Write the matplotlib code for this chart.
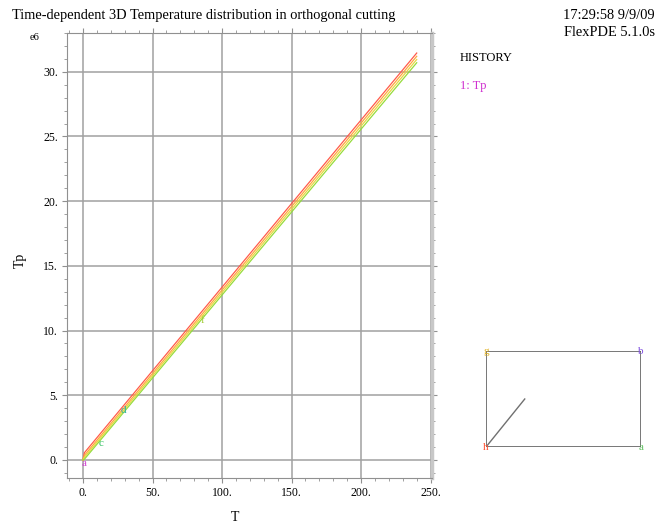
import matplotlib
matplotlib.use('Agg')
import matplotlib.pyplot as plt
from matplotlib.ticker import MultipleLocator, FuncFormatter

plt.rcParams['font.family'] = ['Liberation Serif', 'DejaVu Serif']

# history curves (Tp in units of 1e6 vs time T)
T = [0, 1, 240]
tp_red = [0.0, 0.55, 31.45]
tp_orange = [0.0, 0.35, 31.2]
tp_yellow = [0.0, 0.2, 30.95]
tp_green = [0.0, 0.05, 30.7]
curve_colors = ['#ff5a4a', '#ffa640', '#e8d840', '#96dc3c']

# curve labels
lab_text = ['a', 'c', 'd', 'f']
lab_T = [0.5, 13, 29, 86]
lab_tp = [-0.3, 1.3, 3.8, 10.8]
lab_colors = ['#d040d0', '#30c060', '#30b0a0', '#a0c830']

# history point locations (inset sketch)
pt_text = ['h', 'a', 'b', 'g']
pt_x = [0, 1, 1, 0]
pt_y = [0, 0, 1, 1]
pt_colors = ['#ff5030', '#60c060', '#8050e0', '#e0b020']

fig = plt.figure(figsize=(6.57, 5.27), dpi=100)
ax = fig.add_axes([67/657, 1-478/527, 365/657, 445/527])

for ys, c in zip([tp_red, tp_orange, tp_yellow, tp_green], curve_colors):
    ax.plot(T, ys, color=c, lw=0.9)
for s, x, y, c in zip(lab_text, lab_T, lab_tp, lab_colors):
    ax.text(x, y, s, color=c, fontsize=8, ha='center', va='center')

ax.set_xlim(-11.5, 251)
ax.set_ylim(-1.4, 33)
ax.xaxis.set_major_locator(MultipleLocator(50))
ax.xaxis.set_minor_locator(MultipleLocator(10))
ax.yaxis.set_major_locator(MultipleLocator(5))
ax.yaxis.set_minor_locator(MultipleLocator(1))
fmt = FuncFormatter(lambda v, p: '%d.' % round(v))
ax.xaxis.set_major_formatter(fmt)
ax.yaxis.set_major_formatter(fmt)
ax.grid(True, which='major', color='#a0a0a0', lw=1.1)
ax.tick_params(which='both', direction='out', top=True, right=True,
               labeltop=False, labelright=False, color='#909090',
               labelsize=8.5, pad=3)
ax.tick_params(which='major', length=3.5)
ax.tick_params(which='minor', length=2.5)
for side in ['left', 'bottom', 'top']:
    ax.spines[side].set_color('#909090')
ax.spines['right'].set_color('#c8c8c8')
ax.spines['right'].set_linewidth(2.5)

ax.set_xlabel('T', fontsize=10)
ax.xaxis.set_label_coords(0.46, -0.074)
ax.set_ylabel('Tp', fontsize=10)
ax.yaxis.set_label_coords(-0.11, 0.49)

fig.text(30/657, 1-40/527, 'e6', fontsize=7.5)
fig.text(12/657, 1-19/527, 'Time-dependent 3D Temperature distribution in orthogonal cutting',
         fontsize=10.4)
fig.text(655/657, 1-19/527, '17:29:58 9/9/09', fontsize=10.4, ha='right')
fig.text(655/657, 1-36/527, 'FlexPDE 5.1.0s', fontsize=10.4, ha='right')
fig.text(460/657, 1-61/527, 'HISTORY', fontsize=9)
fig.text(460/657, 1-89/527, '1: Tp', fontsize=9, color='#d030d0')

# inset sketch of the domain with history points
ins = fig.add_axes([486/657, 1-447/527, 155/657, 96/527])
ins.plot([0, 1, 1, 0, 0], [0, 0, 1, 1, 0], color='#606060', lw=1.2)
ins.plot([0, 0.25], [0, 0.5], color='#707070', lw=1.0)
for s, x, y, c in zip(pt_text, pt_x, pt_y, pt_colors):
    ins.text(x, y, s, color=c, fontsize=8, ha='center', va='center')
ins.set_xlim(0, 1)
ins.set_ylim(0, 1)
ins.axis('off')

fig.savefig('out.png', dpi=100)
